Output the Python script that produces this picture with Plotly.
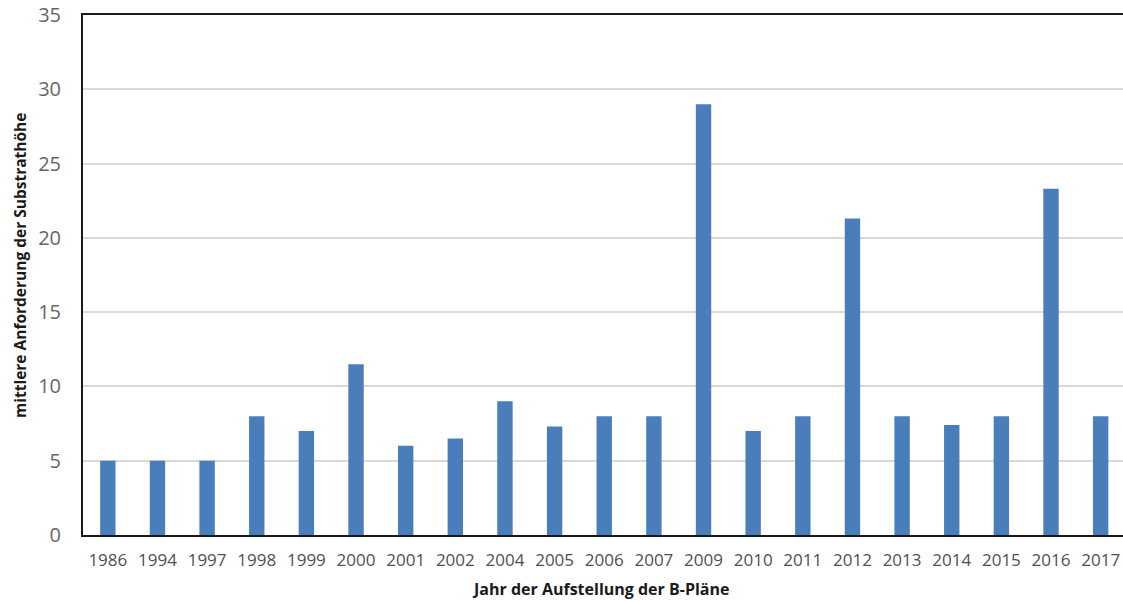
import plotly.graph_objects as go

# Jahr der Aufstellung der B-Pläne und mittlere Anforderung der Substrathöhe
jahre = ["1986", "1994", "1997", "1998", "1999", "2000", "2001", "2002", "2004",
         "2005", "2006", "2007", "2009", "2010", "2011", "2012", "2013", "2014",
         "2015", "2016", "2017"]
substrathoehe = [5, 5, 5, 8, 7, 11.5, 6, 6.5, 9, 7.3, 8, 8, 29, 7, 8, 21.3, 8,
                 7.4, 8, 23.3, 8]
y_ticks = [0, 5, 10, 15, 20, 25, 30, 35]

x_titel = "Jahr der Aufstellung der B-Pläne"
y_titel = "mittlere Anforderung der Substrathöhe"

BAR_COLOR = "#4a7ebb"
TEXT_GREY = "#505050"
FONT = "Open Sans"

fig = go.Figure(
    go.Bar(
        x=list(range(len(jahre))),
        y=substrathoehe,
        width=0.31,
        marker=dict(color=BAR_COLOR, line=dict(width=0)),
    )
)

fig.update_layout(
    width=1123,
    height=602,
    margin=dict(l=83, r=0, t=15, b=67),
    paper_bgcolor="white",
    plot_bgcolor="white",
    showlegend=False,
    font=dict(family=FONT, color=TEXT_GREY),
    xaxis=dict(
        tickmode="array",
        tickvals=list(range(len(jahre))),
        ticktext=jahre,
        range=[-0.5, len(jahre) - 0.55],
        showgrid=False,
        zeroline=False,
        showline=True,
        mirror=True,
        linecolor="#1a1a1a",
        linewidth=2,
        ticks="",
        ticklabelstandoff=9,
        tickfont=dict(family=FONT, size=17, color=TEXT_GREY),
    ),
    yaxis=dict(
        range=[0, 35],
        tickmode="array",
        tickvals=y_ticks,
        showgrid=True,
        gridcolor="#d9d9d9",
        gridwidth=2,
        zeroline=False,
        showline=True,
        linecolor="#1a1a1a",
        linewidth=2,
        ticks="",
        ticklabelstandoff=16,
        tickfont=dict(family=FONT, size=20, color="#666666"),
    ),
    annotations=[
        dict(
            text=f"<b>{x_titel}</b>",
            xref="paper", yref="paper",
            x=(600 - 83) / 1040, y=-(589 - 535) / 520,
            xanchor="center", yanchor="middle",
            showarrow=False,
            font=dict(family=FONT, size=16, color="#1a1a1a"),
        ),
        dict(
            text=f"<b>{y_titel}</b>",
            xref="paper", yref="paper",
            x=-(83 - 20) / 1040, y=(535 - 266) / 520,
            xanchor="center", yanchor="middle",
            textangle=-90,
            showarrow=False,
            font=dict(family=FONT, size=15.5, color="#1a1a1a"),
        ),
    ],
)

fig.write_html("out.html")
